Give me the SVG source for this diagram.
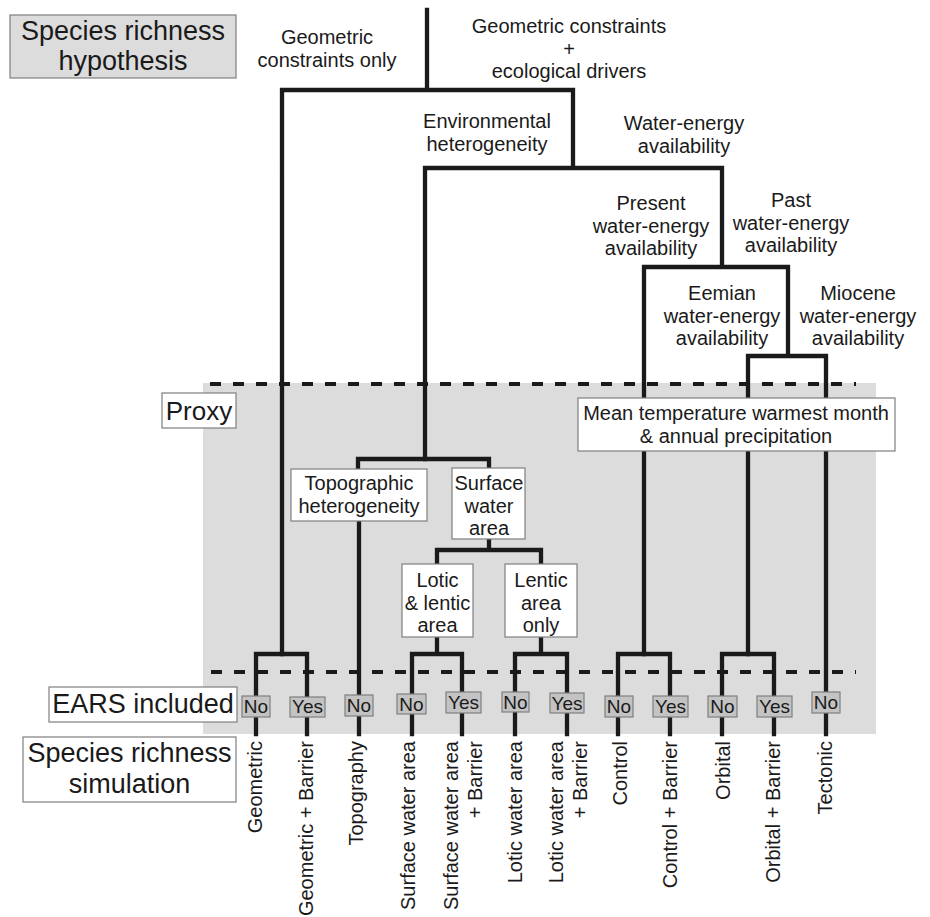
<svg xmlns="http://www.w3.org/2000/svg" width="930" height="917" viewBox="0 0 930 917">
<style>
text{font-family:"Liberation Sans",Arial,sans-serif;fill:#1a1a1a}
.lbl{font-size:20px;text-anchor:middle}
.big{font-size:27px;text-anchor:middle}
.tag{font-size:19px;text-anchor:middle}
.rot{font-size:20px;text-anchor:end}
.box{fill:#fff;stroke:#7f7f7f;stroke-width:1.2}
.gbox{fill:#dcdcdc;stroke:#7f7f7f;stroke-width:1.2}
.tbox{fill:#c3c3c3;stroke:#7f7f7f;stroke-width:1.2}
.ln{fill:none;stroke:#1a1a1a;stroke-width:4.3;stroke-linejoin:miter;stroke-linecap:square}
.dash{fill:none;stroke:#1a1a1a;stroke-width:4;stroke-dasharray:11 12}
</style>
<rect id="proxy-region" x="203" y="383" width="673" height="351" fill="#dcdcdc"/>
<g id="connectors">
<path class="ln" d="M427 10V90M282 654V90H573V168M425 459V168H722V267M644 654V267H788V356M748 654V356H826V734"/>
<path class="ln" d="M358 469V459H489V468M359 521V734"/>
<path class="ln" d="M489 539V550M437 564V550H541V564"/>
<path class="ln" d="M256 734V654H307V734"/>
<path class="ln" d="M437 637V654M412 734V654H462V734"/>
<path class="ln" d="M541 637V654M515 734V654H567V734"/>
<path class="ln" d="M618 734V654H670V734"/>
<path class="ln" d="M722 734V654H774V734"/>
</g>
<path class="dash" d="M210 384H856"/>
<path class="dash" d="M211 672H856"/>
<g id="hypothesis-header"><rect class="gbox" x="10" y="15" width="226" height="63"/><text class="big" x="123" y="40">Species richness<tspan x="123" dy="30">hypothesis</tspan></text></g>
<g id="geometric-only"><text class="lbl" x="327" y="44">Geometric<tspan x="327" dy="22.5">constraints only</tspan></text></g>
<g id="geometric-ecological"><text class="lbl" x="569" y="33">Geometric constraints<tspan x="569" dy="22.5">+</tspan><tspan x="569" dy="22.5">ecological drivers</tspan></text></g>
<g id="env-heterogeneity"><text class="lbl" x="487" y="128">Environmental<tspan x="487" dy="22.5">heterogeneity</tspan></text></g>
<g id="water-energy"><text class="lbl" x="684" y="130">Water-energy<tspan x="684" dy="22.5">availability</tspan></text></g>
<g id="present-we"><text class="lbl" x="651" y="210">Present<tspan x="651" dy="22.5">water-energy</tspan><tspan x="651" dy="22.5">availability</tspan></text></g>
<g id="past-we"><text class="lbl" x="791" y="207">Past<tspan x="791" dy="22.5">water-energy</tspan><tspan x="791" dy="22.5">availability</tspan></text></g>
<g id="eemian-we"><text class="lbl" x="722" y="300">Eemian<tspan x="722" dy="22.5">water-energy</tspan><tspan x="722" dy="22.5">availability</tspan></text></g>
<g id="miocene-we"><text class="lbl" x="858" y="300">Miocene<tspan x="858" dy="22.5">water-energy</tspan><tspan x="858" dy="22.5">availability</tspan></text></g>
<g id="proxy-label"><rect class="box" x="162" y="393" width="74" height="35"/><text class="big" x="199" y="420" style="font-size:26px">Proxy</text></g>
<g id="mean-temp"><rect class="box" x="578" y="398" width="317" height="53"/><text class="lbl" x="736" y="420">Mean temperature warmest month<tspan x="736" dy="22.5">&amp; annual precipitation</tspan></text></g>
<g id="topographic"><rect class="box" x="291" y="469" width="136" height="52"/><text class="lbl" x="359" y="490">Topographic<tspan x="359" dy="22.5">heterogeneity</tspan></text></g>
<g id="surface-water"><rect class="box" x="452" y="468" width="73" height="71"/><text class="lbl" x="489" y="490">Surface<tspan x="489" dy="22.5">water</tspan><tspan x="489" dy="22.5">area</tspan></text></g>
<g id="lotic-lentic"><rect class="box" x="402" y="564" width="71" height="73"/><text class="lbl" x="437.5" y="587">Lotic<tspan x="437.5" dy="22.5">&amp; lentic</tspan><tspan x="437.5" dy="22.5">area</tspan></text></g>
<g id="lentic-only"><rect class="box" x="505" y="564" width="72" height="73"/><text class="lbl" x="541" y="587">Lentic<tspan x="541" dy="22.5">area</tspan><tspan x="541" dy="22.5">only</tspan></text></g>
<g id="ears-label"><rect class="box" x="49" y="687" width="188" height="35"/><text class="big" x="143" y="713">EARS included</text></g>
<g id="simulation-label"><rect class="box" x="23" y="737" width="213" height="65"/><text class="big" x="129.5" y="762">Species richness<tspan x="129.5" dy="31">simulation</tspan></text></g>
<g id="tags">
<rect class="tbox" x="242" y="696" width="28" height="21"/><text class="tag" x="256" y="713">No</text>
<rect class="tbox" x="290" y="697" width="35" height="20"/><text class="tag" x="307.5" y="713">Yes</text>
<rect class="tbox" x="345" y="695" width="28" height="21"/><text class="tag" x="359" y="712">No</text>
<rect class="tbox" x="397" y="694" width="29" height="20"/><text class="tag" x="411.5" y="711">No</text>
<rect class="tbox" x="446" y="692" width="35" height="21"/><text class="tag" x="463.5" y="709">Yes</text>
<rect class="tbox" x="502" y="692" width="27" height="20"/><text class="tag" x="515.5" y="709">No</text>
<rect class="tbox" x="550" y="693" width="34" height="20"/><text class="tag" x="567" y="710">Yes</text>
<rect class="tbox" x="605" y="696" width="28" height="21"/><text class="tag" x="619" y="713">No</text>
<rect class="tbox" x="653" y="696" width="35" height="21"/><text class="tag" x="670.5" y="713">Yes</text>
<rect class="tbox" x="708" y="696" width="29" height="21"/><text class="tag" x="722.5" y="713">No</text>
<rect class="tbox" x="757" y="696" width="35" height="21"/><text class="tag" x="774.5" y="713">Yes</text>
<rect class="tbox" x="812" y="692" width="28" height="21"/><text class="tag" x="826" y="709">No</text>
</g>
<g id="simulations">
<text class="rot" transform="translate(261.5,741) rotate(-90)">Geometric</text>
<text class="rot" transform="translate(312.5,741) rotate(-90)">Geometric + Barrier</text>
<text class="rot" transform="translate(362.5,741) rotate(-90)">Topography</text>
<text class="rot" transform="translate(414.5,741) rotate(-90)">Surface water area</text>
<text class="rot" transform="translate(458,741) rotate(-90)">Surface water area</text>
<text class="rot" transform="translate(481.5,741) rotate(-90)">+ Barrier</text>
<text class="rot" transform="translate(521.5,741) rotate(-90)">Lotic water area</text>
<text class="rot" transform="translate(563,741) rotate(-90)">Lotic water area</text>
<text class="rot" transform="translate(586.5,741) rotate(-90)">+ Barrier</text>
<text class="rot" transform="translate(626.5,741) rotate(-90)">Control</text>
<text class="rot" transform="translate(676.5,741) rotate(-90)">Control + Barrier</text>
<text class="rot" transform="translate(729.5,741) rotate(-90)">Orbital</text>
<text class="rot" transform="translate(779.5,741) rotate(-90)">Orbital + Barrier</text>
<text class="rot" transform="translate(831.5,741) rotate(-90)">Tectonic</text>
</g>
</svg>
